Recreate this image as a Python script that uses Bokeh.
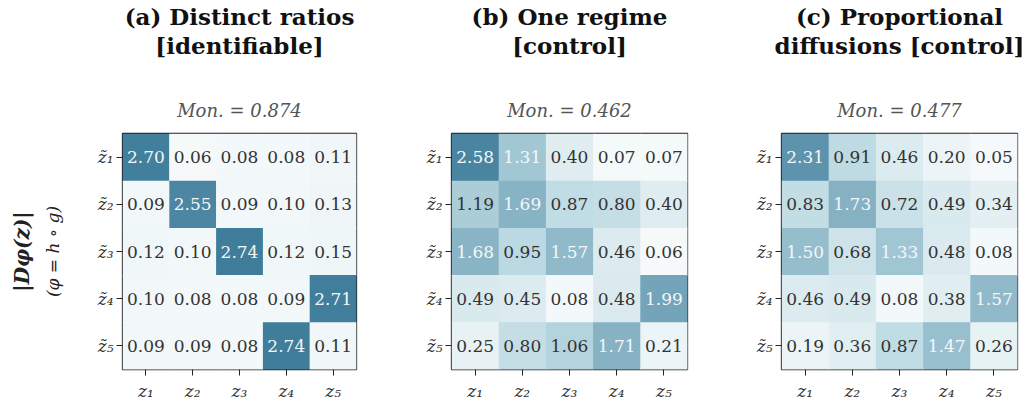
from bokeh.plotting import figure
from bokeh.models import ColumnDataSource, LinearColorMapper, Title, FactorRange
from bokeh.layouts import row
from bokeh.embed import file_html
from bokeh.resources import INLINE
from bokeh.core.properties import value
from bokeh.transform import transform

# ---------------- data ----------------
col_labels = ["z\u2081", "z\u2082", "z\u2083", "z\u2084", "z\u2085"]
row_labels = ["z\u0303\u2081", "z\u0303\u2082", "z\u0303\u2083", "z\u0303\u2084", "z\u0303\u2085"]

vals_a = [[2.70, 0.06, 0.08, 0.08, 0.11],
          [0.09, 2.55, 0.09, 0.10, 0.13],
          [0.12, 0.10, 2.74, 0.12, 0.15],
          [0.10, 0.08, 0.08, 0.09, 2.71],
          [0.09, 0.09, 0.08, 2.74, 0.11]]
vals_b = [[2.58, 1.31, 0.40, 0.07, 0.07],
          [1.19, 1.69, 0.87, 0.80, 0.40],
          [1.68, 0.95, 1.57, 0.46, 0.06],
          [0.49, 0.45, 0.08, 0.48, 1.99],
          [0.25, 0.80, 1.06, 1.71, 0.21]]
vals_c = [[2.31, 0.91, 0.46, 0.20, 0.05],
          [0.83, 1.73, 0.72, 0.49, 0.34],
          [1.50, 0.68, 1.33, 0.48, 0.08],
          [0.46, 0.49, 0.08, 0.38, 1.57],
          [0.19, 0.36, 0.87, 1.47, 0.26]]
title_line1 = ["(a) Distinct ratios", "(b) One regime", "(c) Proportional"]
title_line2 = ["[identifiable]", "[control]", "diffusions [control]"]
mon_values = [0.874, 0.462, 0.477]
ylabel_line1 = "|D\u03c6(z)|"
ylabel_line2 = "(\u03c6 = h \u2218 g)"

# ---------------- style ----------------
def hex2rgb(h):
    h = h.lstrip("#")
    return [int(h[i:i + 2], 16) for i in (0, 2, 4)]

stops = [(0.0, "#f8fbfc"), (1.0 / 2.74, "#b8d7e0"), (1.0, "#3f7d9b")]
palette = []
N = 256
for k in range(N):
    t = k / (N - 1)
    for j in range(len(stops) - 1):
        t0, c0 = stops[j]
        t1, c1 = stops[j + 1]
        if t0 <= t <= t1:
            f = (t - t0) / (t1 - t0)
            a, b = hex2rgb(c0), hex2rgb(c1)
            palette.append("#%02x%02x%02x" % tuple(round(a[i] + f * (b[i] - a[i])) for i in range(3)))
            break
mapper = LinearColorMapper(palette=palette, low=0.0, high=2.74)

SERIF = "DejaVu Serif"
FH = 236  # frame height


def add_title(p, text, side, size, style, color, standoff):
    p.add_layout(Title(text=text, align="center", text_font=SERIF,
                       text_font_style=style, text_font_size=size,
                       text_color=color, standoff=standoff), side)


def make_panel(vals, t1, t2, mon, bl, br, fw, ylabel):
    xs, ys, vs, labs, tcs = [], [], [], [], []
    for i, r in enumerate(row_labels):
        for j, c in enumerate(col_labels):
            v = vals[i][j]
            xs.append(c)
            ys.append(r)
            vs.append(v)
            labs.append("%.2f" % v)
            tcs.append("#f4f6f8" if v > 1.25 else "#333333")
    src = ColumnDataSource(dict(x=xs, y=ys, v=vs, lab=labs, tc=tcs))

    p = figure(x_range=FactorRange(factors=col_labels),
               y_range=FactorRange(factors=row_labels[::-1]),
               frame_width=fw, frame_height=FH, title=None,
               min_border_left=bl, min_border_right=br,
               min_border_top=133, min_border_bottom=38,
               output_backend="svg", toolbar_location=None)
    p.rect(x="x", y="y", width=1, height=1, source=src,
           fill_color=transform("v", mapper), line_color=None, dilate=True)
    p.text(x="x", y="y", text="lab", source=src, text_align="center",
           text_baseline="middle", text_font=value(SERIF),
           text_font_size="17px", text_color="tc")

    p.grid.visible = False
    p.outline_line_color = "#222222"
    p.outline_line_width = 1.3
    p.background_fill_color = "white"
    for ax in (p.xaxis[0], p.yaxis[0]):
        ax.axis_line_color = None
        ax.major_tick_out = 6
        ax.major_tick_in = 0
        ax.major_tick_line_color = "#222222"
        ax.minor_tick_line_color = None
        ax.major_label_text_font = SERIF
        ax.major_label_text_font_style = "italic"
        ax.major_label_text_font_size = "17px"
        ax.major_label_text_color = "#333333"
    p.xaxis.major_label_standoff = 5
    p.yaxis.major_label_standoff = 3

    # titles above: first added sits nearest to the frame
    add_title(p, "Mon. = %.3f" % mon, "above", "18px", "italic", "#555555", 25)
    add_title(p, " ", "above", "1px", "normal", "#ffffff", 24)
    add_title(p, t2, "above", "23px", "bold", "#111111", 0)
    add_title(p, t1, "above", "23px", "bold", "#111111", 0)

    if ylabel:
        p.yaxis.axis_label = ylabel_line2
        p.yaxis.axis_label_text_font = SERIF
        p.yaxis.axis_label_text_font_style = "italic"
        p.yaxis.axis_label_text_font_size = "17px"
        p.yaxis.axis_label_text_color = "#222222"
        p.yaxis.axis_label_standoff = 32
        add_title(p, ylabel_line1, "left", "20px", "bold italic", "#222222", 12)
    return p


pa = make_panel(vals_a, title_line1[0], title_line2[0], mon_values[0], 122, 44, 234, True)
pb = make_panel(vals_b, title_line1[1], title_line2[1], mon_values[1], 51, 43, 236, False)
pc = make_panel(vals_c, title_line1[2], title_line2[2], mon_values[2], 51, 11, 236, False)

layout = row(pa, pb, pc)
open("out.html", "w").write(file_html(layout, INLINE))
